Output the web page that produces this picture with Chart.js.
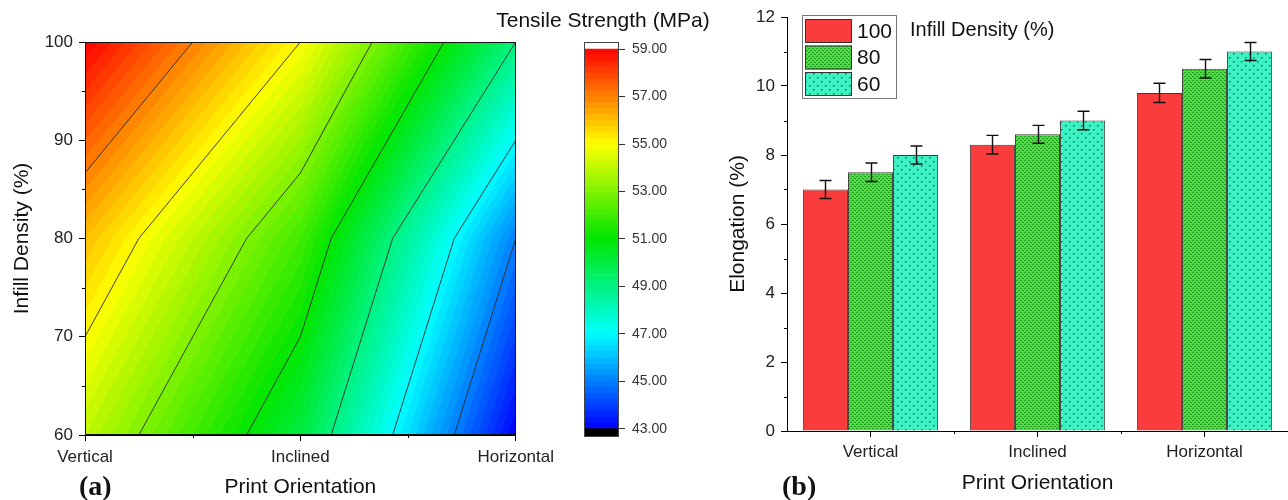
<!DOCTYPE html>
<html>
<head>
<meta charset="utf-8">
<title>Tensile strength and elongation</title>
<script src="https://cdn.jsdelivr.net/npm/chart.js@4.4.1/dist/chart.umd.min.js"></script>
<style>
  html, body { margin: 0; padding: 0; background: #fff; }
  body { width: 1288px; height: 500px; position: relative; overflow: hidden;
         font-family: "Liberation Sans", Arial, sans-serif; }
  canvas { position: absolute; top: 0; }
  .txt { position: absolute; white-space: nowrap; color: #111; }
  .panel { font-family: "Liberation Serif", "Times New Roman", serif; font-weight: bold;
           font-size: 28px; line-height: 28px; }
</style>
</head>
<body>
<canvas id="contourChart" width="560" height="500" style="left:0"></canvas>
<canvas id="colorbarChart" width="240" height="460" style="left:480px"></canvas>
<canvas id="barChart" width="588" height="500" style="left:700px"></canvas>
<div class="txt" style="left:453px;top:8px;width:300px;text-align:center;font-size:21px;line-height:24px">Tensile Strength (MPa)</div>
<div class="txt panel" style="left:79px;top:472px">(a)</div>
<div class="txt panel" style="left:782px;top:472px">(b)</div>
<script>
// ---- panel (a): tensile strength on a 3 x 3 grid ----
const orientations = ['Vertical', 'Inclined', 'Horizontal'];
const densities = [60, 80, 100];
// one row per infill density, one column per orientation
const tensile = [
  [54, 50, 43],   // 60 %
  [56, 52, 45],   // 80 %
  [59, 55, 49]    // 100 %
];
const contourLevels = [45, 47, 49, 51, 53, 55, 57];
const colorbarTicks = [43, 45, 47, 49, 51, 53, 55, 57, 59];

// ---- panel (b): elongation ----
const densityLabels = ['100', '80', '60'];
const elong100 = [7.0, 8.3, 9.8];
const elong80 = [7.5, 8.6, 10.5];
const elong60 = [8.0, 9.0, 11.0];
const err100 = [0.26, 0.27, 0.28];
const err80 = [0.27, 0.26, 0.27];
const err60 = [0.26, 0.27, 0.26];

Chart.defaults.font.family = '"Liberation Sans", Arial, sans-serif';
Chart.defaults.color = '#222';

// Origin-like rainbow palette
const rainbowStops = [
  [43, [0, 0, 255]], [47, [0, 255, 255]], [51, [0, 230, 0]],
  [55, [255, 255, 0]], [59, [255, 0, 0]]
];
function rainbow(v) {
  if (v <= rainbowStops[0][0]) return rainbowStops[0][1];
  for (let i = 1; i < rainbowStops.length; i++) {
    const [v1, c1] = rainbowStops[i];
    if (v <= v1) {
      const [v0, c0] = rainbowStops[i - 1];
      const f = (v - v0) / (v1 - v0);
      return c0.map((c, k) => Math.round(c + (c1[k] - c) * f));
    }
  }
  return rainbowStops[rainbowStops.length - 1][1];
}
const bandStep = 0.25;
const cbMin = colorbarTicks[0], cbMax = colorbarTicks[colorbarTicks.length - 1];
function bandColor(z) {
  let b = Math.floor((z - cbMin) / bandStep);
  b = Math.max(0, Math.min(b, Math.round((cbMax - cbMin) / bandStep) - 1));
  return rainbow(cbMin + (b + 0.5) * bandStep);
}

// bilinear value inside the grid (x = orientation index, d = density)
function tensileAt(x, d) {
  const i = Math.min(Math.max(Math.floor(x), 0), orientations.length - 2);
  let j = 0;
  while (j < densities.length - 2 && d >= densities[j + 1]) j++;
  const u = Math.min(Math.max(x - i, 0), 1);
  const v = Math.min(Math.max((d - densities[j]) / (densities[j + 1] - densities[j]), 0), 1);
  return tensile[j][i] * (1 - u) * (1 - v) + tensile[j][i + 1] * u * (1 - v) +
         tensile[j + 1][i] * (1 - u) * v + tensile[j + 1][i + 1] * u * v;
}

// fills the plot area and draws the iso lines, all through the chart scales
const contourPlugin = {
  id: 'contour',
  beforeDatasetsDraw(chart) {
    const {ctx, chartArea: a, scales: {x, y}} = chart;
    const x0 = Math.round(a.left), y0 = Math.round(a.top);
    const w = Math.round(a.right) - x0, h = Math.round(a.bottom) - y0;
    const img = ctx.createImageData(w, h);
    for (let py = 0; py < h; py++) {
      const d = y.getValueForPixel(y0 + py + 0.5);
      for (let px = 0; px < w; px++) {
        const c = bandColor(tensileAt(x.getValueForPixel(x0 + px + 0.5), d));
        const k = (py * w + px) * 4;
        img.data[k] = c[0]; img.data[k + 1] = c[1]; img.data[k + 2] = c[2]; img.data[k + 3] = 255;
      }
    }
    ctx.putImageData(img, x0, y0);

    ctx.save();
    ctx.strokeStyle = '#2a2a2a';
    ctx.lineWidth = 0.9;
    contourLevels.forEach(level => {
      for (let j = 0; j < densities.length - 1; j++) {
        for (let i = 0; i < orientations.length - 1; i++) {
          const corners = [
            [i, densities[j], tensile[j][i]],
            [i + 1, densities[j], tensile[j][i + 1]],
            [i + 1, densities[j + 1], tensile[j + 1][i + 1]],
            [i, densities[j + 1], tensile[j + 1][i]]
          ];
          const pts = [];
          for (let e = 0; e < 4; e++) {
            const p = corners[e], q = corners[(e + 1) % 4];
            if ((p[2] >= level) !== (q[2] >= level)) {
              const f = (level - p[2]) / (q[2] - p[2]);
              pts.push([p[0] + (q[0] - p[0]) * f, p[1] + (q[1] - p[1]) * f]);
            }
          }
          for (let s = 0; s + 1 < pts.length; s += 2) {
            ctx.beginPath();
            ctx.moveTo(x.getPixelForValue(pts[s][0]), y.getPixelForValue(pts[s][1]));
            ctx.lineTo(x.getPixelForValue(pts[s + 1][0]), y.getPixelForValue(pts[s + 1][1]));
            ctx.stroke();
          }
        }
      }
    });
    ctx.restore();
  }
};

// box around the plot area
const framePlugin = {
  id: 'frame',
  afterDraw(chart, args, opts) {
    if (!opts.color) return;
    const {ctx, chartArea: a} = chart;
    ctx.save();
    ctx.strokeStyle = opts.color;
    ctx.lineWidth = 1;
    ctx.strokeRect(Math.round(a.left) + 0.5, Math.round(a.top) + 0.5,
                   Math.round(a.right - a.left) - 1, Math.round(a.bottom - a.top) - 1);
    ctx.restore();
  }
};

// short ticks between the labelled ones
const minorTicksPlugin = {
  id: 'minorTicks',
  afterDraw(chart, args, opts) {
    const {ctx} = chart;
    ctx.save();
    ctx.strokeStyle = '#000';
    ctx.lineWidth = 1;
    ['x', 'y'].forEach(id => {
      const s = chart.scales[id];
      (opts[id] || []).forEach(v => {
        const p = Math.round(s.getPixelForValue(v)) + 0.5;
        ctx.beginPath();
        if (s.isHorizontal()) { ctx.moveTo(p, s.top); ctx.lineTo(p, s.top + opts.len); }
        else { ctx.moveTo(s.right, p); ctx.lineTo(s.right - opts.len, p); }
        ctx.stroke();
      });
    });
    ctx.restore();
  }
};

const axisGrid = { drawOnChartArea: false, tickLength: 6, color: '#000' };
const axisBorder = { color: '#000', width: 1, z: 1 };

new Chart(document.getElementById('contourChart'), {
  type: 'scatter',
  data: {
    datasets: [{
      data: densities.flatMap(d => orientations.map((o, i) => ({x: i, y: d}))),
      pointRadius: 0
    }]
  },
  options: {
    responsive: false,
    animation: false,
    layout: {padding: {top: 42, right: 43, left: 0, bottom: 0}},
    plugins: {
      legend: {display: false},
      tooltip: {enabled: false},
      frame: {color: '#111'},
      minorTicks: {x: [0.5, 1.5], y: [65, 75, 85, 95], len: 3}
    },
    scales: {
      x: {
        type: 'linear', min: 0, max: orientations.length - 1,
        afterBuildTicks: s => { s.ticks = orientations.map((o, i) => ({value: i})); },
        afterFit: s => { s.height = 65; },
        ticks: {callback: v => orientations[v], font: {size: 17}, padding: 6, maxRotation: 0, autoSkip: false},
        grid: axisGrid, border: axisBorder,
        title: {display: true, text: 'Print Orientation', font: {size: 21}, color: '#111', padding: {top: 0, bottom: 0}}
      },
      y: {
        min: densities[0], max: densities[densities.length - 1],
        afterBuildTicks: s => { s.ticks = [60, 70, 80, 90, 100].map(v => ({value: v})); },
        afterFit: s => { s.width = 85; },
        ticks: {font: {size: 17}, padding: 6},
        grid: axisGrid, border: axisBorder,
        title: {display: true, text: 'Infill Density (%)', font: {size: 21}, color: '#111', padding: {top: 10, bottom: 0}}
      }
    }
  },
  plugins: [contourPlugin, framePlugin, minorTicksPlugin]
});

// ---- colour scale ----
const cbBands = [{lo: 42.65, hi: cbMin, color: '#000'}];
for (let v = cbMin; v < cbMax - 1e-9; v += bandStep) {
  cbBands.push({lo: v, hi: v + bandStep, color: 'rgb(' + rainbow(v + bandStep / 2).join(',') + ')'});
}
cbBands.push({lo: cbMax, hi: 59.3, color: '#fff'});

new Chart(document.getElementById('colorbarChart'), {
  type: 'bar',
  data: {
    labels: ['Tensile Strength'],
    datasets: cbBands.map(b => ({
      data: [[b.lo, b.hi]],
      backgroundColor: b.color,
      borderWidth: 0,
      grouped: false,
      barPercentage: 1,
      categoryPercentage: 1
    }))
  },
  options: {
    responsive: false,
    animation: false,
    layout: {padding: {top: 42, left: 104, right: 0, bottom: 23}},
    plugins: {legend: {display: false}, tooltip: {enabled: false}, frame: {color: '#444'}},
    scales: {
      x: {display: false},
      y: {
        position: 'right',
        min: 42.65, max: 59.3,
        afterBuildTicks: s => { s.ticks = colorbarTicks.map(v => ({value: v})); },
        afterFit: s => { s.width = 101; },
        ticks: {callback: v => v.toFixed(2), font: {size: 14}, color: '#333', padding: 7},
        grid: {drawOnChartArea: false, tickLength: 6, color: '#333'},
        border: {display: false}
      }
    }
  },
  plugins: [framePlugin]
});

// ---- panel (b) ----
function makePattern(base, dot, size, dots) {
  const c = document.createElement('canvas');
  c.width = c.height = size;
  const g = c.getContext('2d');
  g.fillStyle = base;
  g.fillRect(0, 0, size, size);
  g.fillStyle = dot;
  dots.forEach(r => g.fillRect(r[0], r[1], r[2], r[3]));
  return g.createPattern(c, 'repeat');
}
const redFill = '#fa3c3c';
const greenFill = makePattern('#48e03a', '#2a972a', 4, [[0, 0, 2, 1], [2, 2, 2, 1]]);
const cyanFill = makePattern('#3ef2c3', '#1f8f72', 8, [[1, 1, 2, 1], [1, 2, 1, 1], [5, 5, 2, 1], [5, 6, 1, 1]]);

const errorBarPlugin = {
  id: 'errorBars',
  afterDatasetsDraw(chart) {
    const {ctx, scales: {y}} = chart;
    ctx.save();
    ctx.strokeStyle = '#111';
    ctx.lineWidth = 1.4;
    chart.data.datasets.forEach((ds, i) => {
      chart.getDatasetMeta(i).data.forEach((bar, k) => {
        const hi = y.getPixelForValue(ds.data[k] + ds.errors[k]);
        const lo = y.getPixelForValue(ds.data[k] - ds.errors[k]);
        const bx = Math.round(bar.x) + 0.5;
        ctx.beginPath();
        ctx.moveTo(bx, hi); ctx.lineTo(bx, lo);
        ctx.moveTo(bx - 6, hi); ctx.lineTo(bx + 6, hi);
        ctx.moveTo(bx - 6, lo); ctx.lineTo(bx + 6, lo);
        ctx.stroke();
      });
    });
    ctx.restore();
  }
};

const legendBoxPlugin = {
  id: 'legendBox',
  afterDraw(chart, args, o) {
    const {ctx} = chart;
    ctx.save();
    ctx.fillStyle = '#fff';
    ctx.fillRect(o.x, o.y, o.w, o.h);
    ctx.strokeStyle = '#777';
    ctx.lineWidth = 1;
    ctx.strokeRect(o.x + 0.5, o.y + 0.5, o.w, o.h);
    ctx.textBaseline = 'middle';
    chart.data.datasets.forEach((ds, i) => {
      const sy = o.y + 4 + i * o.row;
      ctx.fillStyle = ds.backgroundColor;
      ctx.fillRect(o.x + 3, sy, o.sw, o.sh);
      ctx.strokeStyle = '#333';
      ctx.strokeRect(o.x + 3.5, sy + 0.5, o.sw - 1, o.sh - 1);
      ctx.fillStyle = '#111';
      ctx.font = '21px "Liberation Sans", Arial, sans-serif';
      ctx.fillText(ds.label, o.x + o.sw + 8, sy + o.sh / 2 + 1);
    });
    ctx.font = '20px "Liberation Sans", Arial, sans-serif';
    ctx.fillText(o.title, o.titleX, o.titleY);
    ctx.restore();
  }
};

new Chart(document.getElementById('barChart'), {
  type: 'bar',
  data: {
    labels: orientations,
    datasets: [
      {label: densityLabels[0], data: elong100, errors: err100, backgroundColor: redFill},
      {label: densityLabels[1], data: elong80, errors: err80, backgroundColor: greenFill},
      {label: densityLabels[2], data: elong60, errors: err60, backgroundColor: cyanFill}
    ]
  },
  options: {
    responsive: false,
    animation: false,
    layout: {padding: {top: 17, right: 0, left: 0, bottom: 0}},
    datasets: {bar: {borderColor: '#3a3a3a', borderWidth: 1, barPercentage: 1, categoryPercentage: 0.81}},
    plugins: {
      legend: {display: false},
      tooltip: {enabled: false},
      minorTicks: {x: [0.5, 1.5, 2.5], y: [1, 3, 5, 7, 9, 11], len: 3},
      legendBox: {x: 102, y: 15, w: 94, h: 83, row: 26.5, sw: 47, sh: 24,
                  title: 'Infill Density (%)', titleX: 210, titleY: 30}
    },
    scales: {
      x: {
        afterFit: s => { s.height = 69; },
        ticks: {font: {size: 17}, padding: 5},
        grid: {drawOnChartArea: false, tickLength: 6, color: '#000', offset: false},
        border: axisBorder,
        title: {display: true, text: 'Print Orientation', font: {size: 21}, color: '#111', padding: {top: 0, bottom: 4}}
      },
      y: {
        min: 0, max: 12,
        afterBuildTicks: s => { s.ticks = [0, 2, 4, 6, 8, 10, 12].map(v => ({value: v})); },
        afterFit: s => { s.width = 87; },
        ticks: {font: {size: 17}, padding: 6},
        grid: axisGrid, border: axisBorder,
        title: {display: true, text: 'Elongation (%)', font: {size: 21}, color: '#111', padding: {top: 26, bottom: 0}}
      }
    }
  },
  plugins: [errorBarPlugin, minorTicksPlugin, legendBoxPlugin]
});
</script>
</body>
</html>
